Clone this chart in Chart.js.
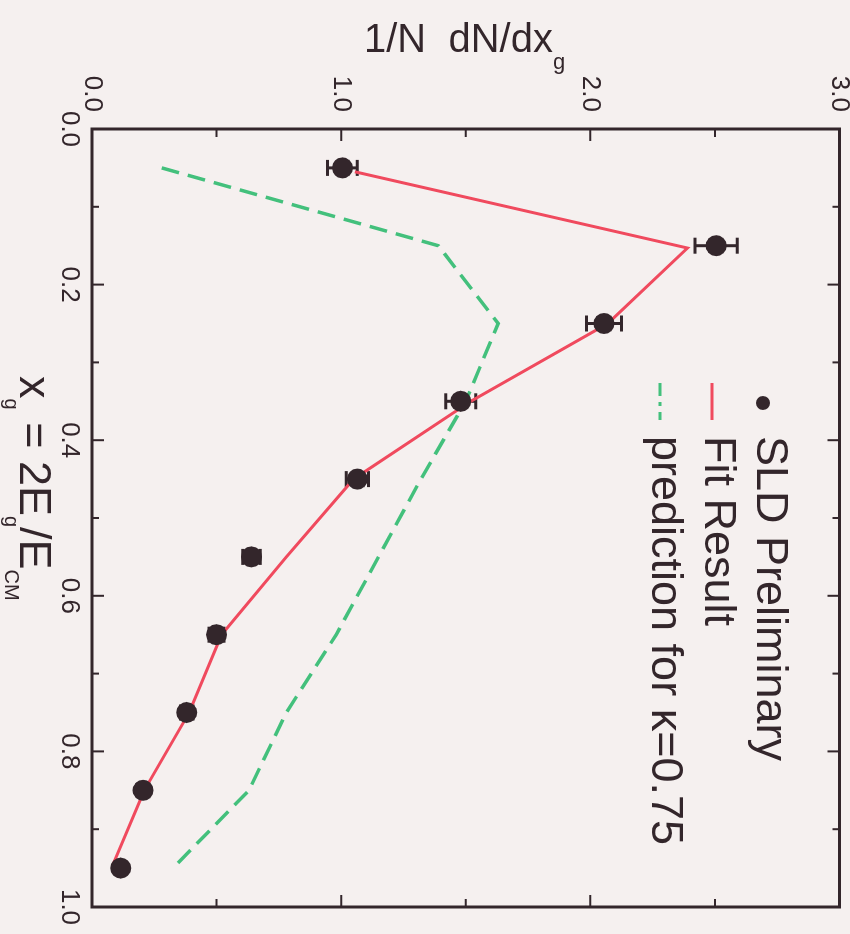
<!DOCTYPE html>
<html>
<head>
<meta charset="utf-8">
<script src="https://cdn.jsdelivr.net/npm/chart.js@4.4.1/dist/chart.umd.min.js"></script>
<style>
html, body { margin: 0; padding: 0; background: #f5f0ef; overflow: hidden; }
#wrap { position: relative; width: 850px; height: 934px; }
/* the figure is a plot turned a quarter turn clockwise */
#c { position: absolute; left: 0; top: 0; transform-origin: 0 0; transform: translate(850px, 0) rotate(90deg); }
</style>
</head>
<body>
<div id="wrap"><canvas id="c" width="934" height="850"></canvas></div>
<script>
// data
const binX = [0.05, 0.15, 0.25, 0.35, 0.45, 0.55, 0.65, 0.75, 0.85, 0.95];
const sldValues = [1.005, 2.505, 2.055, 1.48, 1.065, 0.64, 0.50, 0.38, 0.205, 0.115];
const sldErrors = [0.06, 0.085, 0.07, 0.06, 0.045, 0.035, 0.03, 0.025, 0.02, 0.02];

const fitX = [0.055, 0.153, 0.25, 0.35, 0.45, 0.55, 0.65, 0.75, 0.85, 0.945];
const fitValues = [1.055, 2.39, 2.07, 1.52, 1.05, 0.78, 0.52, 0.39, 0.21, 0.085];

const predX = [0.05, 0.15, 0.25, 0.35, 0.45, 0.55, 0.65, 0.75, 0.85, 0.95];
const predValues = [0.28, 1.39, 1.63, 1.50, 1.32, 1.15, 0.98, 0.78, 0.63, 0.325];

const xTickValues = [0, 0.2, 0.4, 0.6, 0.8, 1.0];
const xMinorTicks = [0.1, 0.3, 0.5, 0.7, 0.9];
const yTickValues = [0, 1, 2, 3];
const yMinorTicks = [0.5, 1.5, 2.5];

const legendLabels = ['SLD Preliminary', 'Fit Result', 'prediction for \u03BA=0.75'];

const BG = '#f5f0ef';
const INK = '#33262b';
const RED = '#f04a5e';
const GREEN = '#43c07c';
const FONT = '"Liberation Sans", Arial, Helvetica, sans-serif';

function toPoints(xs, ys) {
    return xs.map((x, i) => ({ x: x, y: ys[i] }));
}

function drawRich(ctx, pieces) {
    let cx = 0;
    pieces.forEach(([text, size, shift]) => {
        ctx.font = size + 'px ' + FONT;
        ctx.fillText(text, cx, shift);
        cx += ctx.measureText(text).width;
    });
}

const decor = {
    id: 'decor',
    beforeDraw(chart) {
        const ctx = chart.ctx;
        ctx.save();
        ctx.fillStyle = BG;
        ctx.fillRect(0, 0, chart.width, chart.height);
        ctx.restore();
    },
    beforeDatasetsDraw(chart) {
        const { ctx, scales: { x, y } } = chart;
        ctx.save();
        ctx.strokeStyle = INK;
        ctx.lineWidth = 3;
        binX.forEach((xv, i) => {
            const px = x.getPixelForValue(xv);
            const lo = y.getPixelForValue(sldValues[i] - sldErrors[i]);
            const hi = y.getPixelForValue(sldValues[i] + sldErrors[i]);
            ctx.beginPath();
            ctx.moveTo(px, lo); ctx.lineTo(px, hi);
            ctx.moveTo(px - 8, lo); ctx.lineTo(px + 8, lo);
            ctx.moveTo(px - 8, hi); ctx.lineTo(px + 8, hi);
            ctx.stroke();
        });
        ctx.restore();
    },
    afterDraw(chart) {
        const { ctx, chartArea: a, scales: { x, y } } = chart;
        ctx.save();

        // frame
        ctx.strokeStyle = INK;
        ctx.lineWidth = 3;
        ctx.strokeRect(a.left, a.top, a.right - a.left, a.bottom - a.top);

        // inward ticks on all four sides
        ctx.lineWidth = 2;
        ctx.beginPath();
        const xt = (v, len) => {
            const p = x.getPixelForValue(v);
            ctx.moveTo(p, a.bottom); ctx.lineTo(p, a.bottom - len);
            ctx.moveTo(p, a.top); ctx.lineTo(p, a.top + len);
        };
        const yt = (v, len) => {
            const p = y.getPixelForValue(v);
            ctx.moveTo(a.left, p); ctx.lineTo(a.left + len, p);
            ctx.moveTo(a.right, p); ctx.lineTo(a.right - len, p);
        };
        xTickValues.forEach(v => xt(v, 12));
        xMinorTicks.forEach(v => xt(v, 7));
        yTickValues.forEach(v => yt(v, 12));
        yMinorTicks.forEach(v => yt(v, 8));
        ctx.stroke();

        // axis titles
        ctx.fillStyle = INK;
        ctx.textAlign = 'left';
        ctx.textBaseline = 'alphabetic';
        ctx.save();
        ctx.translate(52, 486);
        ctx.rotate(-Math.PI / 2);
        drawRich(ctx, [['1/N  dN/dx', 40, 0], ['g', 22, 17]]);
        ctx.restore();

        ctx.save();
        ctx.translate(376, 830);
        drawRich(ctx, [['x', 45, 0], ['g', 20, 15], [' = 2E', 45, 0], ['g', 20, 15], ['/E', 45, 0], ['CM', 20, 15]]);
        ctx.restore();

        // legend
        ctx.font = '45px ' + FONT;
        ctx.fillText(legendLabels[0], 436, 93);
        ctx.fillText(legendLabels[1], 436, 145);
        ctx.fillText(legendLabels[2], 436, 198);

        ctx.beginPath();
        ctx.arc(403, 87, 7, 0, Math.PI * 2);
        ctx.fill();

        ctx.lineWidth = 3;
        ctx.strokeStyle = RED;
        ctx.beginPath();
        ctx.moveTo(383, 138); ctx.lineTo(420, 138);
        ctx.stroke();

        ctx.strokeStyle = GREEN;
        ctx.setLineDash([13, 6, 4, 6]);
        ctx.beginPath();
        ctx.moveTo(383, 190); ctx.lineTo(420, 190);
        ctx.stroke();

        ctx.restore();
    }
};

const ctx = document.getElementById('c');

new Chart(ctx, {
    type: 'scatter',
    data: {
        datasets: [
            {
                label: legendLabels[2],
                data: toPoints(predX, predValues),
                showLine: true,
                borderColor: GREEN,
                borderWidth: 3.5,
                borderDash: [18, 9],
                pointRadius: 0,
                order: 3
            },
            {
                label: legendLabels[1],
                data: toPoints(fitX, fitValues),
                showLine: true,
                borderColor: RED,
                borderWidth: 3,
                pointRadius: 0,
                order: 2
            },
            {
                label: legendLabels[0],
                data: toPoints(binX, sldValues),
                showLine: false,
                pointRadius: 10.5,
                pointBackgroundColor: INK,
                pointBorderWidth: 0,
                order: 1
            }
        ]
    },
    options: {
        responsive: false,
        animation: false,
        devicePixelRatio: 1,
        layout: { padding: { left: 0, top: 9, right: 27, bottom: 0 } },
        plugins: { legend: { display: false }, tooltip: { enabled: false } },
        scales: {
            x: {
                type: 'linear',
                position: 'bottom',
                min: 0,
                max: 1,
                afterBuildTicks: s => { s.ticks = xTickValues.map(v => ({ value: v })); },
                afterFit: s => { s.height = 92; s.paddingLeft = 0; s.paddingRight = 0; },
                ticks: {
                    callback: v => v.toFixed(1),
                    font: { size: 26, family: FONT },
                    color: INK,
                    padding: 7,
                    maxRotation: 0,
                    autoSkip: false
                },
                grid: { display: false, drawTicks: false },
                border: { display: false }
            },
            y: {
                type: 'linear',
                min: 0,
                max: 3,
                afterBuildTicks: s => { s.ticks = yTickValues.map(v => ({ value: v })); },
                afterFit: s => { s.width = 129; s.paddingTop = 0; s.paddingBottom = 0; },
                ticks: {
                    callback: v => v.toFixed(1),
                    font: { size: 26, family: FONT },
                    color: INK,
                    padding: 17,
                    autoSkip: false
                },
                grid: { display: false, drawTicks: false },
                border: { display: false }
            }
        }
    },
    plugins: [decor]
});
</script>
</body>
</html>
